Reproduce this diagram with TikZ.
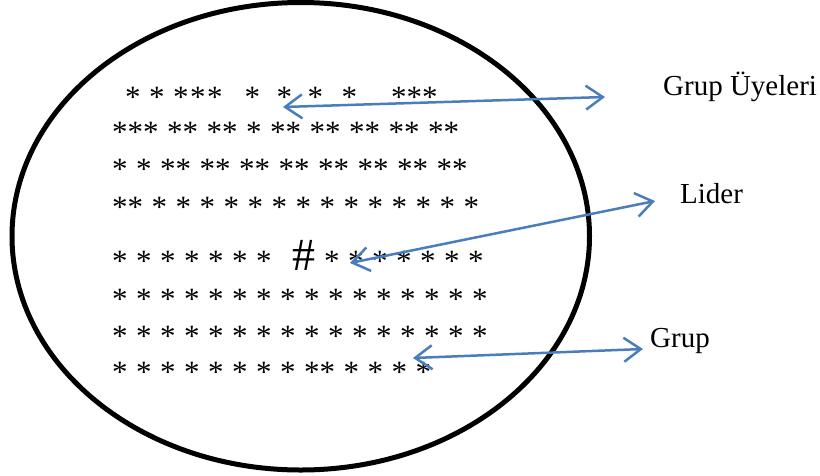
\documentclass[tikz,border=0pt]{standalone}
\usepackage{fontspec}
\setmainfont{Liberation Serif}
\usetikzlibrary{arrows.meta,shapes.geometric}
\definecolor{arrowblue}{HTML}{4A7EBB}
\newcommand{\starspace}{\spaceskip=8.5pt\relax}
\newcommand{\gapsp}[1]{\hspace*{#1}}
\begin{document}
\begin{tikzpicture}[x=1pt,y=-1pt,
  stars/.style={anchor=base west, inner sep=0pt, font=\fontsize{31}{31}\selectfont},
  label/.style={anchor=base west, inner sep=0pt, font=\fontsize{29}{29}\selectfont},
  hash/.style={anchor=base, inner sep=0pt, font=\fontsize{46}{46}\selectfont},
  twoarrow/.style={draw=arrowblue, line width=2.5pt, {Straight Barb[length=17pt,width=24pt]}-{Straight Barb[length=17pt,width=24pt]}},
  groupring/.style={draw=black, line width=5pt}]
\useasboundingbox (0,0) rectangle (820,475);
\node[groupring, ellipse, minimum width=577.5pt, minimum height=467.5pt, inner sep=0pt] (ring) at (300.75,236.25) {};
% star rows
\node[stars] (r1) at (125,107) {\starspace * * *\gapsp{1.5pt}*\gapsp{1.5pt}*\gapsp{22pt}*\gapsp{16.5pt}*\gapsp{15.5pt}*\gapsp{18.5pt}*\gapsp{34pt}***};
\node[stars] (r2) at (112,142) {\starspace *** ** ** * ** ** ** ** **};
\node[stars] (r3) at (112,179) {\starspace * * ** ** ** ** ** ** ** **};
\node[stars] (r4) at (112,217) {\starspace ** * * * * * * * * * * * * * *};
\node[stars] (r5a) at (112,271) {\starspace * * * * * * *};
\node[hash] (lead) at (304,270) {\#};
\node[stars] (r5b) at (324,271) {\starspace * * * * * * *};
\node[stars] (r6) at (112,309) {\starspace * * * * * * * * * * * * * * * *};
\node[stars] (r7) at (112,346) {\starspace * * * * * * * * * * * * * * * *};
\node[stars] (r8) at (112,382) {\starspace * * * * * * * * ** * * * *};
% labels
\node[label] (members) at (663,95) {Grup Üyeleri};
\node[label] (leader) at (680,203) {Lider};
\node[label] (group) at (650,347) {Grup};
% arrow ends
\coordinate (m1) at (283,107);
\coordinate (m2) at (605,97);
\coordinate (l1) at (350,263);
\coordinate (l2) at (655,201);
\coordinate (g1) at (413,358);
\coordinate (g2) at (643,349);
\draw[twoarrow] (m1) -- (m2);
\draw[twoarrow] (l1) -- (l2);
\draw[twoarrow] (g1) -- (g2);
\end{tikzpicture}
\end{document}
